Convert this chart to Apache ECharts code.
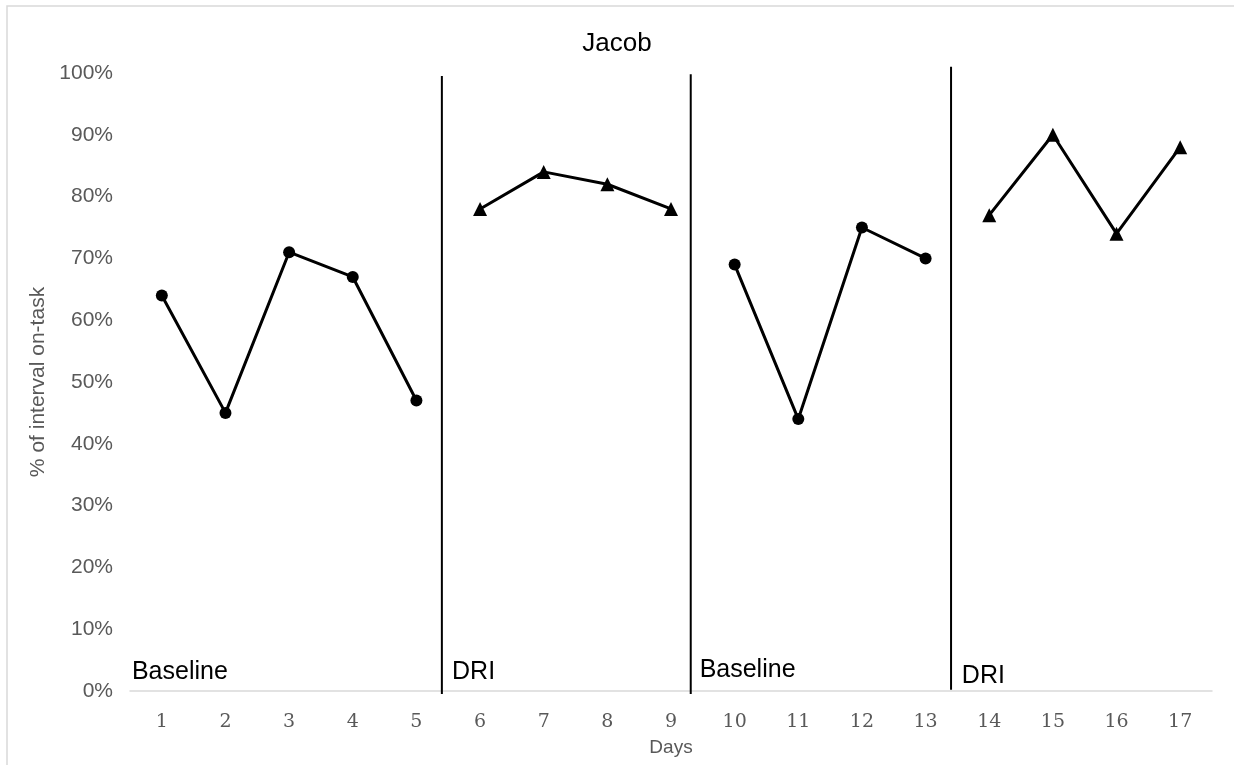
<!DOCTYPE html>
<html>
<head>
<meta charset="utf-8">
<script src="https://cdn.jsdelivr.net/npm/echarts@6/dist/echarts.min.js"></script>
<style>
html,body{margin:0;padding:0;background:#fff;}
#chart{width:1234px;height:765px;}
</style>
</head>
<body>
<div id="chart"></div>
<script>
// ---- data ----
const days = ['1','2','3','4','5','6','7','8','9','10','11','12','13','14','15','16','17'];
const yTicks = [0,10,20,30,40,50,60,70,80,90,100];
const baseline1 = [64, 45, 71, 67, 47];      // days 1-5
const dri1      = [78, 84, 82, 78];          // days 6-9
const baseline2 = [69, 44, 75, 70];          // days 10-13
const dri2      = [77, 90, 74, 88];          // days 14-17
const phaseStarts = [0, 5, 9, 13];           // index of first day of each phase
// phase change lines (x in day units between days, y in %)
const phaseLineX   = [5.40, 9.31, 13.40];
const phaseLineTop = [99.5, 99.8, 101.0];
const phaseLineBot = [-0.5, -0.5, 0.2];
// phase labels
const phaseLabelText = ['Baseline', 'DRI', 'Baseline', 'DRI'];
const phaseLabelX    = [0.53, 5.56, 9.45, 13.57];
const phaseLabelY    = [3.0, 3.0, 3.4, 2.4];

const chart = echarts.init(document.getElementById('chart'));

function phaseData(start, vals){
  return vals.map((v,i)=>[days[start+i], v]);
}
const phases = [
  {vals: baseline1, sym: 'circle', size: 12},
  {vals: dri1, sym: 'triangle', size: 14},
  {vals: baseline2, sym: 'circle', size: 12},
  {vals: dri2, sym: 'triangle', size: 14}
];

const series = phases.map((p, k) => ({
  type: 'line',
  xAxisIndex: 0, yAxisIndex: 0,
  data: phaseData(phaseStarts[k], p.vals),
  symbol: p.sym,
  symbolSize: p.size,
  showAllSymbol: true,
  lineStyle: {color: '#000', width: 3},
  itemStyle: {color: '#000', opacity: 1},
  emphasis: {disabled: true},
  animation: false,
  z: 3
}));

phaseLineX.forEach((x, i) => {
  series.push({
    type: 'line',
    xAxisIndex: 1, yAxisIndex: 0,
    data: [[x, phaseLineBot[i]], [x, phaseLineTop[i]]],
    symbol: 'none',
    clip: false,
    lineStyle: {color: '#000', width: 2},
    emphasis: {disabled: true},
    animation: false,
    z: 2
  });
});

series.push({
  type: 'scatter',
  xAxisIndex: 1, yAxisIndex: 0,
  data: phaseLabelX.map((x, i) => [x, phaseLabelY[i]]),
  symbolSize: 0,
  clip: false,
  silent: true,
  animation: false,
  itemStyle: {opacity: 1, color: '#000'},
  label: {
    show: true,
    position: 'right',
    distance: 0,
    formatter: p => phaseLabelText[p.dataIndex],
    color: '#000',
    opacity: 1,
    fontFamily: 'Liberation Sans, Arial, sans-serif',
    fontSize: 25,
    verticalAlign: 'middle'
  }
});

chart.setOption({
  animation: false,
  backgroundColor: '#fff',
  title: {
    text: 'Jacob',
    left: 'center',
    top: 26,
    textStyle: {color: '#000', fontFamily: 'Liberation Sans, Arial, sans-serif', fontSize: 26, fontWeight: 'normal'}
  },
  graphic: [{
    type: 'rect',
    shape: {x: 7, y: 6, width: 1400, height: 900},
    style: {fill: 'none', stroke: '#d9d9d9', lineWidth: 1.5},
    silent: true
  }],
  grid: {left: 130, right: 22, top: 73, bottom: 74, containLabel: false},
  xAxis: [{
    type: 'category',
    data: days,
    boundaryGap: true,
    name: 'Days',
    nameLocation: 'middle',
    nameGap: 47,
    nameTextStyle: {color: '#595959', fontFamily: 'Liberation Sans, Arial, sans-serif', fontSize: 19},
    axisLine: {show: true, lineStyle: {color: '#d9d9d9', width: 1.5}},
    axisTick: {show: false},
    axisLabel: {color: '#595959', fontFamily: 'DejaVu Serif, serif', fontSize: 19, margin: 22},
    splitLine: {show: false}
  }, {
    type: 'value',
    min: 0.5,
    max: 17.5,
    show: false
  }],
  yAxis: {
    type: 'value',
    min: yTicks[0],
    max: yTicks[yTicks.length-1],
    interval: yTicks[1]-yTicks[0],
    name: '% of interval on-task',
    nameLocation: 'middle',
    nameGap: 81,
    nameRotate: 90,
    nameTextStyle: {color: '#595959', fontFamily: 'Liberation Sans, Arial, sans-serif', fontSize: 21},
    axisLine: {show: false},
    axisTick: {show: false},
    splitLine: {show: false},
    axisLabel: {color: '#595959', fontFamily: 'Liberation Sans, Arial, sans-serif', fontSize: 21, margin: 17, formatter: '{value}%'}
  },
  series: series
});
</script>
</body>
</html>
